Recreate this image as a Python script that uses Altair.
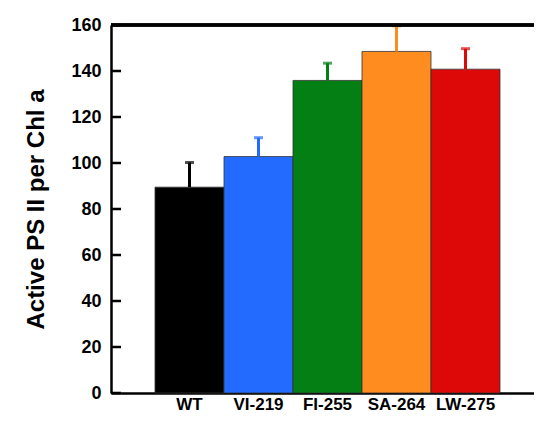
import altair as alt
import pandas as pd

genotypes = ["WT", "VI-219", "FI-255", "SA-264", "LW-275"]
values = [89.5, 102.8, 135.9, 148.5, 140.8]
errors = [10.7, 8.2, 7.5, 11.1, 8.9]
colors = ["#000000", "#236BFE", "#037F14", "#FE8C1E", "#DD0808"]
y_ticks = [0, 20, 40, 60, 80, 100, 120, 140, 160]

W, H = 423, 368
FONT = "Liberation Sans"

df = pd.DataFrame({"g": genotypes, "v": values, "e": errors})
df["top"] = df["v"] + df["e"]
ticks_df = pd.DataFrame({"t": y_ticks})

step = 69
outer_total = W - 5 * step
xscale = alt.Scale(domain=genotypes, paddingInner=0,
                   paddingOuter=outer_total / 2 / step, align=44 / outer_total)
yscale = alt.Scale(domain=[0, 160], nice=False)
cscale = alt.Scale(domain=genotypes, range=colors)

x_enc = alt.X("g:N", scale=xscale, sort=genotypes,
              axis=alt.Axis(title=None, labelAngle=0, ticks=False, labelPadding=3,
                            labelFont=FONT, labelFontSize=17, labelFontWeight="bold",
                            labelColor="black", domainColor="black", domainWidth=2.5))
y_enc = alt.Y("v:Q", scale=yscale,
              axis=alt.Axis(title="Active PS II per Chl a", values=y_ticks, ticks=False,
                            grid=False, labelPadding=10, labelFont=FONT, labelFontSize=18,
                            labelFontWeight="bold", labelColor="black",
                            titleFont=FONT, titleFontSize=24, titleFontWeight="bold",
                            titleColor="black", titlePadding=22,
                            domainColor="black", domainWidth=2.5))

base = alt.Chart(df)

bars = base.mark_bar(stroke="#333333", strokeWidth=0.8).encode(
    x=x_enc, y=y_enc,
    color=alt.Color("g:N", scale=cscale, legend=None),
)

err = base.mark_rule(strokeWidth=3).encode(
    x=alt.X("g:N", scale=xscale, sort=genotypes),
    y=alt.Y("v:Q", scale=yscale),
    y2="top:Q",
    color=alt.Color("g:N", scale=cscale, legend=None),
)

caps = base.mark_tick(thickness=3, size=9, orient="horizontal").encode(
    x=alt.X("g:N", scale=xscale, sort=genotypes),
    y=alt.Y("top:Q", scale=yscale),
    color=alt.Color("g:N", scale=cscale, legend=None),
)

yticks = alt.Chart(ticks_df).mark_rule(color="black", strokeWidth=2.5).encode(
    y=alt.Y("t:Q", scale=yscale),
    x=alt.value(0), x2=alt.value(10),
)

topline = alt.Chart(ticks_df).mark_rule(color="black", strokeWidth=2.5).encode(
    y=alt.value(0), x=alt.value(0), x2=alt.value(W),
)

chart = alt.layer(bars, err, caps, yticks, topline).properties(
    width=W, height=H,
    autosize=alt.AutoSizeParams(type="none"),
    padding={"left": 103, "top": 17, "right": 0, "bottom": 20},
).configure_view(stroke=None).configure(background="white")

chart.save("out.html", embed_options={"renderer": "svg", "actions": False})
